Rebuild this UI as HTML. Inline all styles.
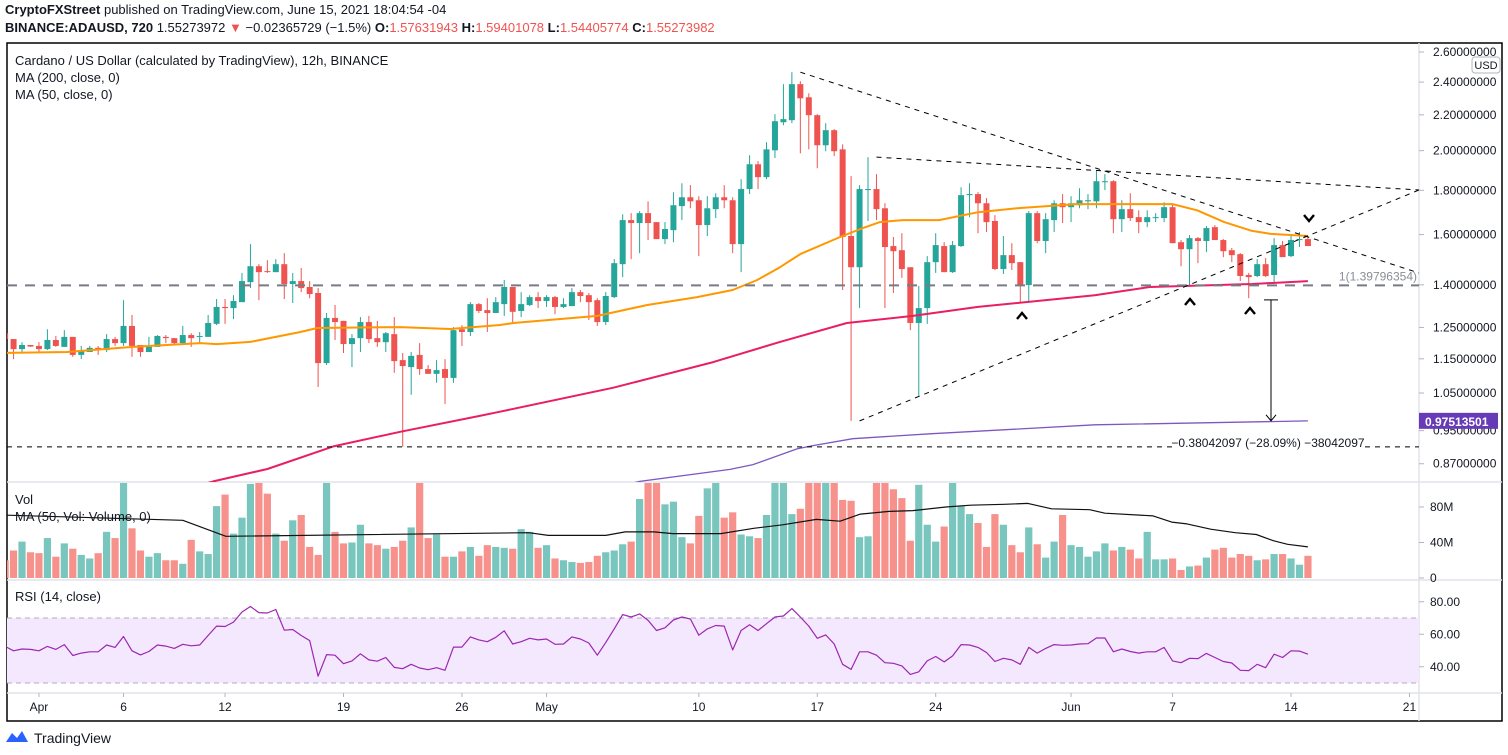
<!DOCTYPE html>
<html><head><meta charset="utf-8"><style>
html,body{margin:0;padding:0;background:#fff;}
svg{display:block;font-family:"Liberation Sans",sans-serif;}
</style></head><body>
<svg id="chart" width="1508" height="755" viewBox="0 0 1508 755" xmlns="http://www.w3.org/2000/svg">
<defs>
<clipPath id="cp"><rect x="7" y="43" width="1412" height="439"/></clipPath>
<clipPath id="cv"><rect x="7" y="483" width="1412" height="97"/></clipPath>
<clipPath id="cr"><rect x="7" y="581" width="1412" height="112"/></clipPath>
</defs>
<rect x="0" y="0" width="1508" height="755" fill="#fff"/>
<g font-size="13" fill="#131722">
<text x="5" y="14"><tspan font-weight="bold">CryptoFXStreet</tspan> published on TradingView.com, June 15, 2021 18:04:54 -04</text>
<text x="5" y="32"><tspan font-weight="bold">BINANCE:ADAUSD, 720</tspan> 1.55273972 <tspan fill="#ef5350">▼</tspan> −0.02365729 (−1.5%) <tspan font-weight="bold">O:</tspan><tspan fill="#ef5350">1.57631943</tspan> <tspan font-weight="bold">H:</tspan><tspan fill="#ef5350">1.59401078</tspan> <tspan font-weight="bold">L:</tspan><tspan fill="#ef5350">1.54405774</tspan> <tspan font-weight="bold">C:</tspan><tspan fill="#ef5350">1.55273982</tspan></text>
</g>
<rect x="7" y="43" width="1495" height="678" fill="none" stroke="#000" stroke-width="1.5"/>
<g stroke="#e0e3eb" stroke-width="1.5">
<line x1="7" y1="482" x2="1502" y2="482"/><line x1="7" y1="580" x2="1502" y2="580"/><line x1="7" y1="693" x2="1502" y2="693"/><line x1="1419" y1="43" x2="1419" y2="721"/>
</g>
<g id="rsiBand"></g>
<g id="grid"></g>
<g id="price" clip-path="url(#cp)"></g>
<g id="vol" clip-path="url(#cv)"></g>
<g id="rsi" clip-path="url(#cr)"></g>
<g id="axes" font-size="12" fill="#131722"></g>
<g id="ann"></g>
<g font-size="13" fill="#131722">
<text x="15" y="65">Cardano / US Dollar (calculated by TradingView), 12h, BINANCE</text>
<text x="15" y="82">MA (200, close, 0)</text>
<text x="15" y="99">MA (50, close, 0)</text>
<text x="15" y="504">Vol</text>
<text x="15" y="521">MA (50, Vol: Volume, 0)</text>
<text x="15" y="601">RSI (14, close)</text>
</g>
<g><rect x="1472" y="57" width="28" height="16" rx="3" fill="#fff" stroke="#b2b5be"/><text x="1486" y="69" font-size="11" text-anchor="middle" fill="#131722">USD</text></g>
<g>
<path d="M6 742 l6 -9 l5 5 l5 -7 l6 11 z" fill="#2962ff"/>
<text x="34" y="743" font-size="14" fill="#131722">TradingView</text>
</g>
</svg>
<script>
const O=[1.231,1.212,1.180,1.193,1.190,1.180,1.209,1.187,1.219,1.162,1.171,1.184,1.177,1.212,1.199,1.255,1.193,1.171,1.187,1.219,1.215,1.199,1.225,1.219,1.219,1.262,1.320,1.316,1.337,1.410,1.471,1.452,1.448,1.479,1.403,1.414,1.392,1.370,1.137,1.282,1.272,1.196,1.215,1.268,1.215,1.202,1.228,1.146,1.125,1.162,1.119,1.105,1.119,1.093,1.244,1.235,1.330,1.309,1.299,1.330,1.392,1.306,1.327,1.355,1.341,1.355,1.320,1.323,1.373,1.362,1.344,1.268,1.355,1.479,1.663,1.650,1.694,1.654,1.581,1.619,1.726,1.767,1.753,1.641,1.712,1.767,1.753,1.560,1.806,1.929,1.864,2.002,2.157,2.169,2.387,2.305,2.198,2.029,2.112,2.007,1.594,1.467,1.801,1.806,1.716,1.552,1.535,1.467,1.265,1.316,1.487,1.552,1.448,1.552,1.777,1.782,1.739,1.659,1.460,1.515,1.487,1.399,1.694,1.573,1.663,1.739,1.721,1.730,1.748,1.748,1.839,1.844,1.667,1.712,1.676,1.654,1.672,1.672,1.721,1.568,1.539,1.585,1.573,1.632,1.577,1.535,1.519,1.437,1.433,1.479,1.437,1.556,1.511,1.577,1.581];
const H=[1.232,1.212,1.202,1.193,1.202,1.244,1.222,1.241,1.219,1.190,1.190,1.190,1.228,1.219,1.344,1.292,1.193,1.219,1.225,1.225,1.215,1.255,1.231,1.235,1.292,1.348,1.348,1.362,1.445,1.560,1.479,1.495,1.499,1.523,1.445,1.464,1.414,1.388,1.299,1.327,1.272,1.228,1.285,1.289,1.272,1.235,1.285,1.168,1.171,1.199,1.131,1.146,1.149,1.251,1.258,1.337,1.334,1.351,1.355,1.418,1.392,1.373,1.362,1.373,1.362,1.359,1.351,1.388,1.381,1.370,1.351,1.373,1.499,1.689,1.694,1.703,1.748,1.654,1.654,1.791,1.834,1.825,1.772,1.772,1.786,1.825,1.767,1.854,1.976,1.945,2.045,2.204,2.387,2.464,2.406,2.330,2.204,2.152,2.118,2.034,1.869,1.825,1.966,1.879,1.739,1.590,1.606,1.467,1.396,1.511,1.606,1.568,1.573,1.815,1.834,1.791,1.763,1.685,1.594,1.564,1.487,1.703,1.703,1.694,1.753,1.782,1.772,1.810,1.782,1.899,1.879,1.849,1.753,1.786,1.707,1.707,1.694,1.744,1.739,1.577,1.598,1.590,1.637,1.641,1.581,1.544,1.523,1.445,1.499,1.503,1.585,1.573,1.594,1.611,1.590];
const L=[1.209,1.149,1.168,1.187,1.168,1.177,1.187,1.187,1.156,1.149,1.171,1.162,1.171,1.190,1.190,1.156,1.156,1.171,1.187,1.199,1.193,1.193,1.187,1.196,1.219,1.258,1.262,1.278,1.337,1.388,1.344,1.445,1.448,1.348,1.334,1.373,1.351,1.067,1.131,1.209,1.168,1.125,1.171,1.199,1.187,1.171,1.108,0.910,1.045,1.102,1.105,1.079,1.020,1.079,1.190,1.222,1.299,1.235,1.299,1.289,1.265,1.285,1.323,1.316,1.320,1.295,1.316,1.323,1.337,1.275,1.255,1.258,1.351,1.429,1.499,1.523,1.577,1.581,1.560,1.568,1.663,1.716,1.511,1.594,1.672,1.716,1.523,1.448,1.782,1.806,1.854,1.961,2.140,2.152,1.986,2.007,1.909,1.997,1.971,1.381,0.975,1.316,1.659,1.663,1.316,1.370,1.426,1.241,1.042,1.262,1.445,1.448,1.445,1.548,1.676,1.606,1.611,1.456,1.441,1.456,1.337,1.341,1.564,1.523,1.611,1.650,1.654,1.716,1.712,1.716,1.801,1.606,1.611,1.659,1.606,1.632,1.654,1.654,1.564,1.471,1.399,1.483,1.527,1.577,1.507,1.487,1.414,1.351,1.429,1.429,1.407,1.507,1.507,1.548,1.552];
const C=[1.212,1.180,1.193,1.188,1.180,1.209,1.190,1.219,1.162,1.174,1.184,1.177,1.212,1.199,1.255,1.190,1.171,1.190,1.222,1.215,1.199,1.225,1.215,1.222,1.265,1.320,1.316,1.341,1.414,1.471,1.448,1.450,1.479,1.403,1.414,1.388,1.366,1.137,1.282,1.268,1.196,1.215,1.268,1.212,1.202,1.231,1.143,1.128,1.159,1.119,1.105,1.116,1.093,1.241,1.235,1.330,1.306,1.299,1.337,1.392,1.303,1.330,1.355,1.341,1.355,1.320,1.330,1.373,1.359,1.337,1.268,1.359,1.483,1.663,1.650,1.694,1.650,1.581,1.624,1.730,1.767,1.748,1.641,1.716,1.767,1.753,1.560,1.806,1.929,1.864,2.007,2.163,2.175,2.387,2.299,2.198,2.029,2.112,1.997,1.590,1.467,1.806,1.806,1.712,1.548,1.531,1.460,1.265,1.316,1.487,1.556,1.448,1.556,1.777,1.782,1.739,1.654,1.460,1.515,1.483,1.399,1.694,1.573,1.667,1.739,1.721,1.739,1.753,1.753,1.844,1.844,1.667,1.712,1.672,1.654,1.676,1.676,1.721,1.564,1.539,1.585,1.573,1.628,1.577,1.531,1.515,1.433,1.429,1.479,1.433,1.556,1.507,1.577,1.581,1.552];
const VOL=[20,31,41,29,28,45,24,39,33,26,22,28,52,45,130,56,31,24,28,20,20,16,43,30,27,81,94,50,68,106,130,95,50,42,65,71,35,26,130,52,39,40,60,39,37,33,35,42,57,130,45,49,24,24,30,35,25,37,35,34,33,55,52,34,37,22,20,18,17,18,25,29,31,38,41,89,130,130,83,86,46,39,70,101,130,68,74,49,47,45,71,130,130,72,78,130,130,130,130,88,87,46,47,130,130,100,90,42,105,60,41,58,130,81,72,62,35,72,60,37,29,57,38,23,41,71,37,35,24,30,39,31,35,32,22,52,21,21,22,9,13,14,23,32,34,23,27,25,20,21,27,27,22,15,25,16,22,28,20];
const RSI=[52.5,49.8,50.9,50.7,49.8,52.5,50.7,53.6,46.9,48.4,49.2,49.2,53.4,51.9,58.6,49.8,47.3,49.4,53.4,52.7,51.3,53.8,52.9,53.4,59.2,65,64.8,67.5,73.7,77.1,73.3,73.1,75.2,62.5,62.9,59.2,56.1,34.2,47.5,47.1,41.9,43.6,48,44.2,43.4,45.7,39.6,38.8,41.5,39.2,38.2,39.4,37.8,52.1,52.1,58.4,56.5,55.4,58.1,62.1,54,55.4,57.5,56.5,57.1,53.8,54,58.4,57.1,54.6,47.1,55,63.3,72.1,70.6,72.5,68.5,62.3,64,68.8,70.6,69.4,59.4,63.3,65.4,65,50.4,62.3,65.8,62.3,66.5,70.6,71.2,75.8,70.6,65,57.5,59.6,54,41.5,38.4,49.2,49.2,47.1,42.5,42.1,40.5,35.3,36.9,43.6,46.3,43,46.7,53.6,53.4,51.9,48.8,43.2,45.2,44.2,41.5,51.9,48.4,51.3,53.6,53.2,53.4,54,54.2,57.7,57.7,49.2,50.9,49.4,48.4,49.2,49.2,51.9,43.6,42.5,45.2,45,48.2,45.7,43.2,42.3,37.8,37.6,41.5,39.4,47.7,45.7,49.8,49.6,47.7];
const MA50_IDX=[-0.6,7.3,15.1,23.1,25,29,34.9,36.9,46.7,52.6,58.5,60.1,70,75.9,81.8,86,88.9,91.6,94,98.7,101.4,103.4,106.1,110.4,115,119.6,126.6,138,140.9,144.1,147.4,149.6,154];
const MA50_VAL=[1.168,1.171,1.187,1.199,1.196,1.203,1.235,1.248,1.251,1.245,1.258,1.265,1.289,1.327,1.355,1.381,1.418,1.467,1.519,1.590,1.628,1.654,1.663,1.663,1.698,1.716,1.735,1.735,1.707,1.654,1.616,1.603,1.594];
const MA200_IDX=[17.1,24.6,31,38.8,46.7,56.1,58.5,71.9,83.7,91.6,99.5,107.3,115,128.8,135.3,147.4,154];
const MA200_VAL=[0.79,0.83,0.858,0.911,0.947,0.988,0.999,1.065,1.140,1.203,1.265,1.289,1.320,1.362,1.392,1.403,1.414];
const PURP_IDX=[72.7,75,85.7,88.4,93.6,95.5,100.2,109.3,128.8,154];
const PURP_VAL=[0.82,0.83,0.857,0.868,0.905,0.913,0.930,0.942,0.965,0.975];
const VMA_IDX=[-0.6,21,26.1,61.9,64.2,71,73.3,76.7,78.9,84.6,88.5,91.9,95.9,98.7,101.1,104.5,107.3,111.2,114.1,118.1,120.9,123.7,128.2,130,135.7,137.9,139.7,142.5,145.4,147.9,149.9,151.6,154];
const VMA_VAL=[71,65,47,51,48,48,52,52,50,50,56,60,66,64,72,75,76,80,82,83,84,78,77,73,70,63,61,55,51,49,42,38,35];
const PRICE_TICKS=[2.6,2.4,2.2,2.0,1.8,1.6,1.4,1.25,1.15,1.05,0.95,0.87];
const VOL_TICKS=[80,40,0];
const VOL_TICK_LABELS=["80M","40M","0"];
const RSI_TICKS=[80,60,40];
const DATE_DAYS=[0,5,11,18,25,30,39,46,53,61,67,74,81];
const DATE_LABELS=["Apr","6","12","19","26","May","10","17","24","Jun","7","14","21"];
const FIB_LEVEL=1.39796354;
const TARGET=0.97513501;
const MEASURE_TOP=1.345;
const LOW_LINE=0.91;

const NS="http://www.w3.org/2000/svg";
const X0=5.1, DX=8.46;
const xi=i=>X0+i*DX;
const xd=d=>X0+(d+2)*2*DX;
const yp=p=>52+(Math.log10(2.6)-Math.log10(p))*866;
const yv=v=>578-v*0.8875;
const yr=r=>618-(r-70)*1.625;
function mk(tag,attrs,parent){const e=document.createElementNS(NS,tag);for(const k in attrs)e.setAttribute(k,attrs[k]);parent.appendChild(e);return e;}
const gP=document.getElementById('price'),gV=document.getElementById('vol'),gR=document.getElementById('rsi'),gA=document.getElementById('axes'),gN=document.getElementById('ann'),gB=document.getElementById('rsiBand');

// RSI band
let band=mk('rect',{x:7,y:yr(70),width:1412,height:yr(30)-yr(70),fill:'#f3e8fd'},gB);


[70,30].forEach(v=>{const l=mk('line',{x1:7,x2:1419,y1:yr(v),y2:yr(v),stroke:'#b7a9c9','stroke-dasharray':'5 4'},gB);

});

// candles
for(let i=0;i<O.length;i++){
 const up=C[i]>=O[i];const col=up?'#26a69a':'#ef5350';const x=xi(i);
 const g=mk('g',{},gP);
 
 
 mk('line',{x1:x,x2:x,y1:yp(H[i]),y2:yp(L[i]),stroke:col,'stroke-width':1},g);
 const t=yp(Math.max(O[i],C[i])),b=yp(Math.min(O[i],C[i]));
 mk('rect',{x:x-3,y:t,width:6,height:Math.max(1,b-t),fill:col},g);
 const vb=mk('rect',{x:x-3.6,y:yv(VOL[i]),width:7.2,height:578-yv(VOL[i]),fill:up?'#78c6bd':'#f7918c'},gV);
 
 
}
function poly(idx,val,fy,col,w,parent,name){
 const pts=idx.map((k,j)=>xi(k).toFixed(1)+','+fy(val[j]).toFixed(1)).join(' ');
 const p=mk('polyline',{points:pts,fill:'none',stroke:col,'stroke-width':w,'stroke-linejoin':'round'},parent);
 
 
}
poly(MA50_IDX,MA50_VAL,yp,'#ff9800',2,gP,'ma50-line');
poly(MA200_IDX,MA200_VAL,yp,'#e91e63',2,gP,'ma200-line');
poly(PURP_IDX,PURP_VAL,yp,'#7e57c2',1.3,gP,'purple-ma-line');
poly(VMA_IDX,VMA_VAL,yv,'#111',1.2,gV,'volume-ma-line');
poly(RSI.map((_,i)=>i),RSI,yr,'#9c27b0',1.2,gR,'rsi-line');

// axes
PRICE_TICKS.forEach(p=>{const y=yp(p);mk('line',{x1:1419,x2:1424,y1:y,y2:y,stroke:'#b2b5be'},gA);
 const t=mk('text',{x:1433,y:y+4},gA);t.textContent=p.toFixed(8);
 
 });
VOL_TICKS.forEach((v,j)=>{const y=yv(v);mk('line',{x1:1419,x2:1424,y1:y,y2:y,stroke:'#b2b5be'},gA);
 const t=mk('text',{x:1430,y:y+4},gA);t.textContent=VOL_TICK_LABELS[j];
 
 });
RSI_TICKS.forEach(v=>{const y=yr(v);mk('line',{x1:1419,x2:1424,y1:y,y2:y,stroke:'#b2b5be'},gA);
 const t=mk('text',{x:1430,y:y+4},gA);t.textContent=v.toFixed(2);
 
 });
DATE_DAYS.forEach((d,j)=>{const x=xd(d);mk('line',{x1:x,x2:x,y1:693,y2:697,stroke:'#b2b5be'},gA);
 const t=mk('text',{x:x,y:711,'text-anchor':'middle'},gA);t.textContent=DATE_LABELS[j];
 
 });

// annotations
function ln(x1,y1,x2,y2,attrs,name){const l=mk('line',Object.assign({x1,y1,x2,y2},attrs),gN);
 
 }
const yF=yp(FIB_LEVEL);
ln(7,yF,1419,yF,{stroke:'#787b86','stroke-width':2,'stroke-dasharray':'10 8'},'fib-level-line');
const ft=mk('text',{x:1417,y:yF-5,'text-anchor':'end','font-size':12,fill:'#8a8d96'},gN);ft.textContent='1(1.39796354)';


const yL=yp(LOW_LINE);
ln(7,yL,1175,yL,{stroke:'#000','stroke-dasharray':'5 5'},'support-line');
ln(1365,yL,1419,yL,{stroke:'#000','stroke-dasharray':'5 5'},'support-line-right');
const mt=mk('text',{x:1268,y:yL,'text-anchor':'middle','font-size':12,fill:'#131722'},gN);mt.textContent='−0.38042097 (−28.09%) −38042097';


const dash={stroke:'#000','stroke-dasharray':'5 5','stroke-width':1};
ln(xi(94),yp(2.464),1419,273,dash,'upper-trendline');
ln(xi(103),yp(1.966),1419,190,dash,'second-upper-trendline');
ln(xi(101),yp(0.975),1419,190,dash,'lower-trendline');
const ax=1271,yT=yp(MEASURE_TOP),yB=yp(TARGET);
ln(ax-7,yT,ax+7,yT,{stroke:'#000'},'measure-top-cap');
ln(ax,yT,ax,yB,{stroke:'#000'},'measure-arrow');
const ah=mk('polyline',{points:`${ax-5},${yB-6} ${ax},${yB} ${ax+5},${yB-6}`,fill:'none',stroke:'#000'},gN);


[[1022,316,1],[1190,302,1],[1250,311,1],[1309,218,-1]].forEach(c=>{
 const [x,y,s]=c;const p=mk('polyline',{points:`${x-5},${y+3*s} ${x},${y-3*s} ${x+5},${y+3*s}`,fill:'none',stroke:'#000','stroke-width':2.4},gN);
 
 
});
const tg=mk('g',{},gN);


mk('rect',{x:1419,y:yB-8,width:79,height:16,fill:'#673ab7'},tg);
const tt=mk('text',{x:1425,y:yB+5,fill:'#fff','font-size':12,'font-weight':'bold'},tg);tt.textContent=TARGET.toFixed(8);
</script>
</body></html>
